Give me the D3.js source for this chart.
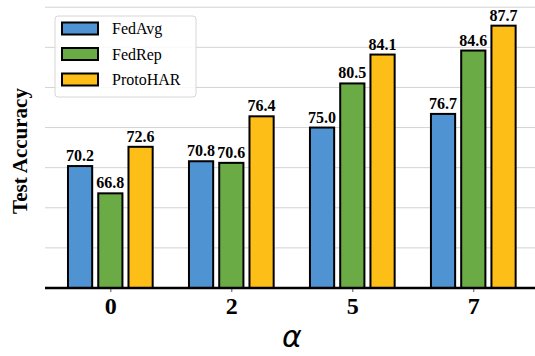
<!DOCTYPE html>
<html>
<head>
<meta charset="utf-8">
<script src="https://cdn.jsdelivr.net/npm/d3@7/dist/d3.min.js"></script>
<style>
  html, body { margin: 0; padding: 0; background: #fff; }
  svg { display: block; }
  .serif { font-family: "Liberation Serif", "Times New Roman", Times, serif; }
</style>
</head>
<body>
<svg id="chart" width="535" height="356"></svg>
<script>
// Test accuracy of three federated methods at different alpha values
const categories = ["0", "2", "5", "7"];
const seriesNames = ["FedAvg", "FedRep", "ProtoHAR"];
const fedAvg = [70.2, 70.8, 75.0, 76.7];
const fedRep = [66.8, 70.6, 80.5, 84.6];
const protoHAR = [72.6, 76.4, 84.1, 87.7];
const gridTicks = [55, 60, 65, 70, 75, 80, 85, 90];
const colors = ["#4f93d2", "#6aab45", "#fdbe17"];

const series = [fedAvg, fedRep, protoHAR];

const svg = d3.select("#chart");
const plot = { left: 45, right: 535, top: 0, bottom: 288 };

const x = d3.scaleLinear().domain([-0.54, 3.51]).range([plot.left, plot.right]);
const y = d3.scaleLinear().domain([55, 90.9]).range([plot.bottom, plot.top]);

const barW = 0.2, step = 0.25;

// horizontal grid
svg.append("g")
  .selectAll("line")
  .data(gridTicks.filter(t => t > 55))
  .join("line")
  .attr("x1", plot.left).attr("x2", plot.right)
  .attr("y1", d => y(d)).attr("y2", d => y(d))
  .attr("stroke", "#d3d3d3").attr("stroke-width", 1);

// bars with value labels
const groups = svg.append("g");
series.forEach((vals, si) => {
  const off = (si - 1) * step;
  groups.append("g")
    .selectAll("rect")
    .data(vals)
    .join("rect")
    .attr("x", (d, i) => x(i + off - barW / 2))
    .attr("width", (d, i) => x(i + off + barW / 2) - x(i + off - barW / 2))
    .attr("y", d => y(d))
    .attr("height", d => y(55) - y(d))
    .attr("fill", colors[si])
    .attr("stroke", "#000")
    .attr("stroke-width", 2);

  groups.append("g")
    .selectAll("text")
    .data(vals)
    .join("text")
    .attr("class", "serif")
    .attr("x", (d, i) => x(i + off))
    .attr("y", d => y(d) - 5)
    .attr("text-anchor", "middle")
    .style("font-weight", "bold")
    .style("font-size", "16px")
    .text(d => d.toFixed(1));
});

// x axis
const xAxis = d3.axisBottom(x)
  .tickValues(categories.map((c, i) => i))
  .tickFormat(i => categories[i])
  .tickSize(4)
  .tickPadding(5);
const gx = svg.append("g").attr("transform", `translate(0,${plot.bottom})`).call(xAxis);
gx.attr("font-family", null).attr("font-size", null);
gx.select(".domain").remove();
gx.selectAll(".tick line").attr("stroke", "#555").attr("stroke-width", 1);
gx.selectAll(".tick text")
  .attr("class", "serif")
  .style("font-weight", "bold")
  .style("font-size", "24px")
  .attr("fill", "#000");
svg.append("line")
  .attr("x1", plot.left).attr("x2", plot.right)
  .attr("y1", plot.bottom).attr("y2", plot.bottom)
  .attr("stroke", "#000").attr("stroke-width", 2.5);

// axis titles
svg.append("text")
  .attr("x", 292)
  .attr("y", 347)
  .attr("text-anchor", "middle")
  .style("font-family", "'DejaVu Sans', sans-serif")
  .style("font-style", "italic")
  .style("font-size", "30px")
  .text("α");

svg.append("text")
  .attr("class", "serif")
  .attr("transform", `translate(27,151) rotate(-90)`)
  .attr("text-anchor", "middle")
  .style("font-weight", "bold")
  .style("font-size", "21px")
  .text("Test Accuracy");

// legend
const lg = svg.append("g");
lg.append("rect")
  .attr("x", 55).attr("y", 16).attr("width", 141).attr("height", 81)
  .attr("rx", 3).attr("fill", "#fff").attr("fill-opacity", 0.85)
  .attr("stroke", "#d6d6d6").attr("stroke-width", 1);
seriesNames.forEach((name, i) => {
  const cy = 28.5 + i * 25.5;
  lg.append("rect")
    .attr("x", 62).attr("y", cy - 6).attr("width", 36).attr("height", 12)
    .attr("fill", colors[i]).attr("stroke", "#000").attr("stroke-width", 2);
  lg.append("text")
    .attr("class", "serif")
    .attr("x", 112).attr("y", cy + 5.5)
    .style("font-size", "16px")
    .text(name);
});
</script>
</body>
</html>
